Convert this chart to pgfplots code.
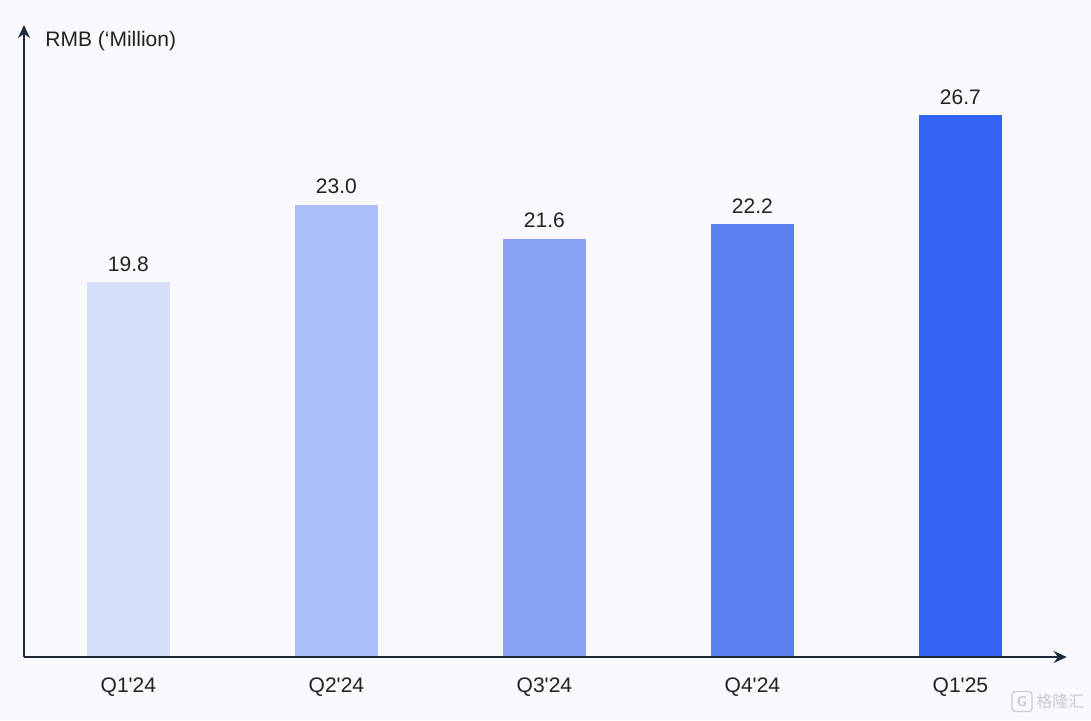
\documentclass[border=0pt]{standalone}
\usepackage{pgfplots}
\pgfplotsset{compat=1.18}
\usepackage{fontspec}
\setmainfont{Liberation Sans}
\newfontfamily\cjk{Noto Sans CJK SC}
\usetikzlibrary{arrows.meta}

\definecolor{bg}{HTML}{F8F8FD}
\definecolor{axiscol}{HTML}{1E2A3A}
\definecolor{txt}{HTML}{222222}
\definecolor{cA}{HTML}{D5DFFA}
\definecolor{cB}{HTML}{ACBEF7}
\definecolor{cC}{HTML}{89A2F5}
\definecolor{cD}{HTML}{5C80F2}
\definecolor{cE}{HTML}{3462F2}
\definecolor{wm}{HTML}{C9C9CF}

\begin{document}
\begin{tikzpicture}
\fill[bg] (0,0) rectangle (545.5pt,360pt);
\useasboundingbox (0,0) rectangle (545.5pt,360pt);
\begin{axis}[
    at={(12pt,31.5pt)}, anchor=south west,
    scale only axis,
    width=521.35pt, height=316pt,
    xmin=-0.502, xmax=4.511,
    ymin=4.35, ymax=30.42,
    axis lines=left,
    axis on top,
    axis line style={line width=1pt, draw=axiscol, -{Stealth[length=6.5pt,width=6pt]}},
    major tick length=0pt,
    xtick={0,1,2,3,4},
    xticklabels={Q1\textquotesingle24,Q2\textquotesingle24,Q3\textquotesingle24,Q4\textquotesingle24,Q1\textquotesingle25},
    xticklabel style={anchor=base, yshift=-17.5pt, text=txt, font=\fontsize{10.5}{12}\selectfont},
    ytick=\empty,
    every node near coord/.append style={anchor=base, yshift=5.5pt, text=txt, font=\fontsize{10.5}{12}\selectfont},
]
\addplot[ybar, fill=cA, draw=none, bar width=41.5pt, nodes near coords={19.8}] coordinates {(0,19.8)};
\addplot[ybar, fill=cB, draw=none, bar width=41.5pt, nodes near coords={23.0}] coordinates {(1,23.0)};
\addplot[ybar, fill=cC, draw=none, bar width=41.5pt, nodes near coords={21.6}] coordinates {(2,21.6)};
\addplot[ybar, fill=cD, draw=none, bar width=41.5pt, nodes near coords={22.2}] coordinates {(3,22.2)};
\addplot[ybar, fill=cE, draw=none, bar width=41.5pt, nodes near coords={26.7}] coordinates {(4,26.7)};
\end{axis}
\node[anchor=base west, inner sep=0pt, text=txt, font=\fontsize{10.5}{12}\selectfont] at (22.5pt,336.6pt) {RMB (‘Million)};
% watermark
\draw[wm, line width=0.6pt, rounded corners=1.5pt] (506pt,4.3pt) rectangle (516pt,14.2pt);
\node[text=wm, inner sep=0pt, font=\sffamily\bfseries\fontsize{7}{8}\selectfont] at (511pt,9.2pt) {G};
\node[anchor=west, text=wm, inner sep=0pt, font=\cjk\fontsize{8}{9}\selectfont] at (518pt,9.2pt) {格隆汇};
\end{tikzpicture}
\end{document}
